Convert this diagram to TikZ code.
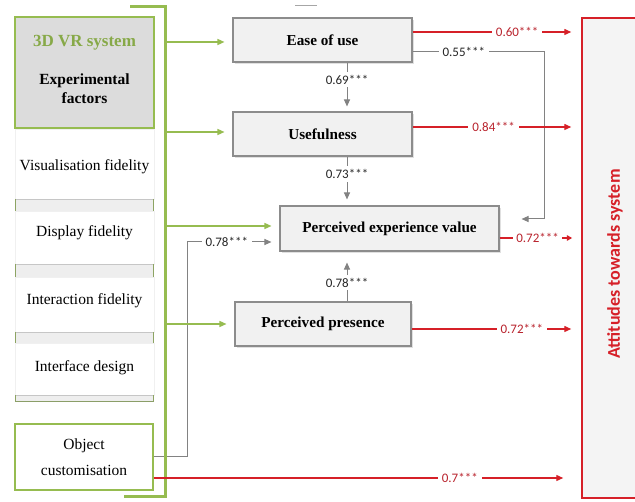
\documentclass[tikz,border=0pt]{standalone}
\usepackage{fontspec}
\setmainfont{Liberation Serif}
\newfontfamily\numfont{Carlito}
\usetikzlibrary{arrows.meta,calc,shadows}
\definecolor{vgreen}{RGB}{150,188,80}
\definecolor{vred}{RGB}{214,32,40}
\definecolor{vredtxt}{RGB}{185,35,45}
\definecolor{boxgray}{RGB}{241,241,241}
\definecolor{edgegray}{RGB}{140,140,140}
\definecolor{arrgray}{RGB}{130,130,130}
\definecolor{vrfill}{RGB}{220,220,220}
\begin{document}
\begin{tikzpicture}[x=1pt,y=-1pt,
  mbox/.style={draw=edgegray,fill=boxgray,line width=1.1pt,
    drop shadow={shadow xshift=2pt,shadow yshift=-2pt,fill=gray!40,opacity=.6},
    font=\fontsize{15.2}{17}\selectfont\bfseries,inner sep=0pt},
  itembox/.style={draw=gray!12,fill=white,minimum width=139pt,inner sep=0pt},
  itemtxt/.style={font=\fontsize{15.5}{18}\selectfont},
  gline/.style={draw=vgreen,line width=3pt},
  garr/.style={draw=vgreen,line width=1.4pt,-{Triangle[length=7pt,width=6pt]},shorten >=8pt},
  grar/.style={draw=arrgray,line width=1pt,-{Triangle[length=7pt,width=6pt]}},
  rarr/.style={draw=vred,line width=1.4pt,-{Triangle[length=7pt,width=6pt]},shorten >=10pt},
  lbl/.style={font=\numfont\fontsize{13}{15}\selectfont,fill=white,inner xsep=4pt,inner ysep=3pt,text=black!85},
  rlbl/.style={lbl,text=vredtxt}
]
\useasboundingbox (0,0) rectangle (635,502);
\fill[white] (0,0) rectangle (635,502);

% stray top mark
\coordinate (s1) at (295,6);
\coordinate (s2) at (317,6);
\draw[gray!70,line width=1pt] (s1) -- (s2);

% right box
\node[draw=vred,fill=gray!9,line width=1.5pt,minimum width=60pt,minimum height=480pt,inner sep=0pt] (att) at (612,258) {};
\node[rotate=90,text=vred,font=\numfont\fontsize{18}{20}\selectfont\bfseries] (attlbl) at (615,264) {Attitudes towards system};

% left column
\node[draw=vgreen,fill=vrfill,line width=1.6pt,minimum width=139pt,minimum height=111pt,inner sep=0pt] (vr) at (84.5,72.5) {};
\node[text=vgreen!90!black,font=\fontsize{17}{19}\selectfont\bfseries] (vrt) at (84.5,43) {3D VR system};
\node[align=center,font=\fontsize{15.5}{19}\selectfont\bfseries] (vrf) at (84.5,89) {Experimental\\factors};

\node[itembox,minimum height=70pt] (vis) at (84.5,164) {};
\node[itemtxt] (vist) at (84.5,167) {Visualisation fidelity};
\node[itembox,minimum height=53pt] (disp) at (84.5,237.5) {};
\node[itemtxt] (dispt) at (84.5,233) {Display fidelity};
\node[itembox,minimum height=55pt] (inter) at (84.5,304.5) {};
\node[itemtxt] (intert) at (84.5,301) {Interaction fidelity};
\node[itembox,minimum height=52pt] (iface) at (84.5,369) {};
\node[itemtxt] (ifacet) at (84.5,368) {Interface design};

\foreach \ya/\yb in {199/211,264/277,332/343,395/402}{
  \fill[gray!13] (15,\ya) rectangle (154,\yb);
  \draw[gray!45,line width=.8pt] (15,\ya) -- (154,\ya);
  \draw[vgreen!60!gray,line width=.8pt] (15.5,\ya) -- (15.5,\yb) (153.5,\ya) -- (153.5,\yb);
}
\draw[vgreen!50!gray,line width=.8pt] (15,401.5) -- (154,401.5);

\node[draw=vgreen,fill=white,line width=1.3pt,minimum width=138pt,minimum height=66pt,inner sep=0pt,
  align=center,font=\fontsize{15.5}{26}\selectfont] (obj) at (84,457) {Object\\customisation};

% middle boxes
\node[mbox,minimum width=179pt,minimum height=44pt] (ease) at (322.5,40) {Ease of use};
\node[mbox,minimum width=179pt,minimum height=44pt] (use) at (322.5,134) {Usefulness};
\node[mbox,minimum width=219pt,minimum height=45pt] (pev) at (389.5,228.5) {Perceived experience value};
\node[mbox,minimum width=176pt,minimum height=44pt] (pres) at (323,324) {Perceived presence};

% green bracket
\coordinate (bl1) at (130,7);
\coordinate (btop) at (165,7);
\coordinate (bbot) at (165,497);
\coordinate (bl2) at (124,497);

% gray connectors
\coordinate (col) at (347,0);
\draw[grar,shorten >=5pt] (ease.south -| col) -- node[lbl,pos=.35]{0.69***} (use.north -| col);
\draw[grar,shorten >=6pt] (use.south -| col) -- node[lbl,pos=.36]{0.73***} (pev.north -| col);
\draw[grar,shorten >=11pt] (pres.north -| col) -- node[lbl,pos=.38]{0.78***} (pev.south -| col);

\coordinate (eo) at ($(ease.east)+(0,12)$);
\coordinate (gx2) at (544,0);
\coordinate (pevr) at ($(pev.east)+(0,-9.5)$);
\draw[grar,shorten >=22pt] (eo) -- node[lbl,pos=.39]{0.55***} (eo -| gx2) -- (gx2 |- pevr) -- (pevr);

\coordinate (pevin) at ($(pev.west)+(0,13.5)$);
\coordinate (gx) at (187,0);
\draw[grar,shorten >=8pt] (obj.east) -- (obj.east -| gx) -- (gx |- pevin) -- node[lbl,pos=.43]{0.78***} (pevin);

% green bracket on top
\draw[gline] (bl1) -- (btop) -- (bbot) -- (bl2);
\draw[garr] ($(ease.west -| btop)+(0,2)$) -- ($(ease.west)+(0,2)$);
\draw[garr] ($(use.west -| btop)+(0,-2)$) -- ($(use.west)+(0,-2)$);
\draw[garr] ($(pev.west -| btop)+(0,-2.5)$) -- ($(pev.west)+(0,-2.5)$);
\draw[garr] (pres.west -| btop) -- (pres.west);

% red connectors
\coordinate (e1) at ($(ease.east)+(0,-8)$);
\draw[rarr] (e1) -- node[rlbl,pos=.62]{0.60***} (e1 -| att.west);
\coordinate (u1) at ($(use.east)+(0,-7)$);
\draw[rarr] (u1) -- node[rlbl,pos=.48]{0.84***} (u1 -| att.west);
\coordinate (p1) at ($(pev.east)+(0,9.5)$);
\draw[rarr,-{Triangle[length=5.5pt,width=5.5pt]},shorten >=9pt] (p1) -- node[rlbl,pos=.465,inner xsep=3pt]{0.72***} (p1 -| att.west);
\coordinate (r1) at ($(pres.east)+(0,5)$);
\draw[rarr] (r1) -- node[rlbl,pos=.65]{0.72***} (r1 -| att.west);
\coordinate (o1) at ($(obj.east)+(0,21)$);
\draw[rarr,shorten >=18pt] (o1) -- node[rlbl,pos=.716]{0.7***} (o1 -| att.west);
\end{tikzpicture}
\end{document}
